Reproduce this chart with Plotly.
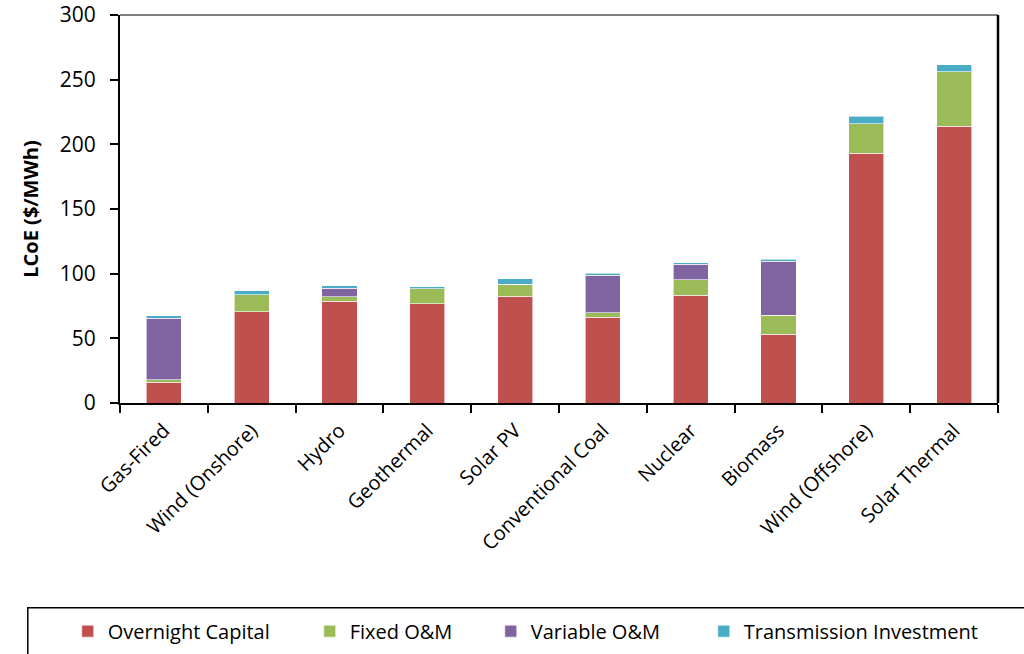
import plotly.graph_objects as go

technologies = ['Gas-Fired', 'Wind (Onshore)', 'Hydro', 'Geothermal', 'Solar PV',
                'Conventional Coal', 'Nuclear', 'Biomass', 'Wind (Offshore)', 'Solar Thermal']

overnight_capital = [15.9, 70.4, 78.6, 76.6, 82.4, 66.2, 83.2, 53.1, 193.0, 213.9]
fixed_om = [2.0, 13.4, 3.6, 11.6, 9.6, 3.6, 12.2, 14.6, 23.0, 42.1]
variable_om = [47.7, 0.0, 6.4, 0.0, 0.0, 28.9, 11.8, 41.8, 0.0, 0.0]
transmission = [1.8, 3.1, 2.1, 1.7, 4.1, 1.8, 1.3, 1.6, 5.7, 5.6]

series = [
    ('Overnight Capital', overnight_capital, '#C0504D'),
    ('Fixed O&M', fixed_om, '#9BBB59'),
    ('Variable O&M', variable_om, '#8064A2'),
    ('Transmission Investment', transmission, '#4BACC6'),
]

# left edge (paper x) of each legend entry, so the entries spread like the original
legend_x = [-0.0595, 0.2161, 0.4223, 0.6649]

font_family = 'Open Sans, Liberation Sans, sans-serif'

fig = go.Figure()
legend_layouts = {}
for i, (name, vals, color) in enumerate(series):
    key = 'legend' if i == 0 else f'legend{i + 1}'
    fig.add_trace(go.Bar(
        x=technologies, y=vals, name=name, legend=key,
        marker=dict(color=color, line=dict(color='rgba(255,255,255,0.6)', width=1)),
        width=0.4
    ))
    legend_layouts[key] = dict(orientation='h', x=legend_x[i], xanchor='left',
                               y=-0.588, yanchor='middle', bgcolor='rgba(0,0,0,0)',
                               font=dict(size=20))

fig.update_layout(
    barmode='stack',
    width=1024, height=654,
    margin=dict(l=120, r=26, t=15, b=251, autoexpand=False),
    plot_bgcolor='white', paper_bgcolor='white',
    font=dict(family=font_family, color='black', size=20),
    showlegend=True,
    **legend_layouts,
)

fig.update_yaxes(
    range=[0, 300], dtick=50, showgrid=False, zeroline=False,
    showline=True, linecolor='black', linewidth=2,
    ticks='outside', ticklen=8, tickwidth=1.5, tickcolor='black',
    tickfont=dict(size=21), ticklabelstandoff=10,
    title=dict(text='<b>LCoE ($/MWh)</b>', font=dict(size=20), standoff=16),
)
fig.update_xaxes(
    showline=True, linecolor='black', linewidth=2,
    ticks='outside', ticklen=8, tickwidth=2, tickcolor='black',
    tickson='boundaries', tickangle=-45, tickfont=dict(size=20), ticklabelstandoff=6,
    showgrid=False,
)

# plot frame: grey top edge and black right edge
fig.add_shape(type='line', xref='paper', yref='paper', x0=0, x1=1, y0=1, y1=1,
              line=dict(color='#808080', width=2))
fig.add_shape(type='line', xref='paper', yref='paper', x0=1, x1=1, y0=0, y1=1,
              line=dict(color='black', width=2.5))
# legend box (runs off the right and bottom of the page)
fig.add_shape(type='rect', xref='paper', yref='paper', x0=-0.105, x1=1.1, y0=-0.528, y1=-0.75,
              line=dict(color='black', width=1.5))

fig.write_html('out.html', config={'displayModeBar': False},
               post_script="document.body.style.margin='0';")
